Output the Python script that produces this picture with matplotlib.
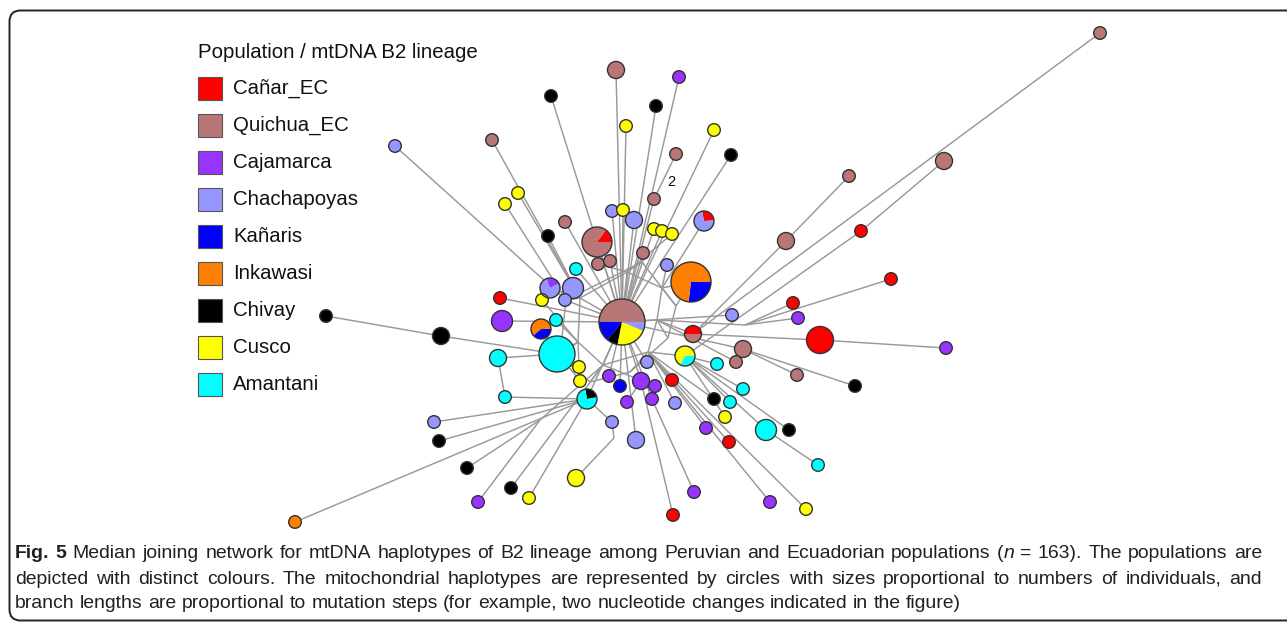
import matplotlib
matplotlib.use("Agg")
import matplotlib.pyplot as plt
from matplotlib.patches import Circle, Wedge, Rectangle, FancyBboxPatch
from matplotlib import font_manager as fm

# ---------------- data ----------------
populations = ["Cañar_EC", "Quichua_EC", "Cajamarca", "Chachapoyas", "Kañaris",
               "Inkawasi", "Chivay", "Cusco", "Amantani"]
pop_codes = ["CA", "QU", "CJ", "CH", "KA", "IN", "CV", "CU", "AM"]
pop_colors = ["#FF0000", "#B97676", "#9933FF", "#9696FF", "#0000FF",
              "#FF8000", "#000000", "#FFFF00", "#00FFFF"]

# haplotype nodes (n01 .. n96), layout positions of the network in pixels
node_x = [616, 679, 551, 656, 626, 714, 492, 395, 676, 731,
          518, 505, 654, 612, 623, 634, 565, 704, 548, 654,
          662, 672, 597, 643, 598, 610, 576, 667, 691, 550,
          573, 565, 542, 500, 622, 556, 502, 541, 441, 326,
          693, 732, 557, 498, 685, 743, 736, 717, 647, 579,
          580, 609, 620, 641, 655, 672, 627, 652, 675, 587,
          505, 612, 636, 434, 439, 467, 511, 478, 529, 576,
          295, 694, 673, 714, 730, 725, 706, 729, 743, 766,
          789, 818, 770, 806, 797, 855, 820, 946, 793, 798,
          891, 861, 786, 849, 944, 1100]
node_y = [70, 77, 96, 106, 126, 130, 140, 146, 154, 155,
          193, 204, 199, 211, 210, 220, 222, 221, 236, 229,
          231, 234, 242, 253, 264, 261, 269, 265, 282, 288,
          288, 300, 300, 298, 322, 320, 321, 329, 336, 316,
          334, 315, 354, 358, 356, 349, 362, 364, 362, 367,
          381, 376, 386, 381, 386, 380, 402, 399, 403, 399,
          397, 422, 440, 422, 441, 468, 488, 502, 498, 478,
          522, 492, 515, 399, 402, 417, 428, 442, 389, 430,
          430, 465, 502, 509, 375, 386, 340, 348, 303, 318,
          279, 231, 241, 176, 161, 33]
# node radius (pixels), proportional to number of individuals
node_r = [8.5, 6.3, 6.3, 6.3, 6.3, 6.3, 6.3, 6.3, 6.3, 6.3,
          6.3, 6.3, 6.3, 6.3, 6.3, 8.5, 6.3, 10, 6.3, 6.3,
          6.3, 6.3, 15, 6.3, 6.3, 6.3, 6.3, 6.3, 20, 10,
          10.5, 6.3, 6.3, 6.3, 23, 6.3, 10.5, 10, 8.5, 6.3,
          8.5, 6.3, 18, 8.5, 10, 8.5, 6.3, 6.3, 6.3, 6.3,
          6.3, 6.3, 6.3, 8.5, 6.3, 6.3, 6.3, 6.3, 6.3, 10,
          6.3, 6.3, 8.5, 6.3, 6.3, 6.3, 6.3, 6.3, 6.3, 8.5,
          6.3, 6.3, 6.3, 6.3, 6.3, 6.3, 6.3, 6.3, 6.3, 10.5,
          6.3, 6.3, 6.3, 6.3, 6.3, 6.3, 13.5, 6.3, 6.3, 6.3,
          6.3, 6.3, 8.5, 6.3, 8.5, 6.3]
# population composition (share in %), slices listed counter-clockwise
node_mix = ["QU", "CJ", "CV", "CV", "CU", "CU", "QU", "CH", "QU", "CV",
            "CU", "CU", "QU", "CH", "CU", "CH", "QU", "CA:27 CH:73", "CV", "CU",
            "CU", "CU", "CA:15 QU:85", "QU", "QU", "QU", "AM", "CH", "KA:27 IN:73", "CJ:23 CH:77",
            "CH", "CH", "CU", "CA", "QU:50 KA:14.2 CV:7.8 CU:21.7 CH:6.4", "AM", "CJ", "KA:39 IN:61", "CV", "CV",
            "CA:50 QU:50", "CH", "AM", "AM", "AM:34 CU:66", "QU", "QU", "AM", "CH", "CU",
            "CU", "CJ", "KA", "CJ", "CJ", "CA", "CJ", "CJ", "CH", "CV:25 AM:75",
            "AM", "CH", "CH", "CH", "CV", "CV", "CV", "CJ", "CU", "CU",
            "IN", "CJ", "CA", "CV", "AM", "CU", "CJ", "CA", "AM", "AM",
            "CV", "AM", "CJ", "CU", "QU", "CV", "CA", "CJ", "CA", "CJ",
            "CA", "CA", "QU", "QU", "QU", "QU"]
# start angle (degrees, counter-clockwise from east) of the first slice of each pie
node_start = {18: 4, 23: 0, 29: -97, 30: 27, 35: 0, 38: -140, 41: 0, 45: -119, 60: 10}

# median vectors (unsampled intermediate haplotypes)
med_names = ["m1", "m2", "m3", "m4", "m5", "m6", "m7",
             "k1", "k2", "k3", "k4", "k5", "k6", "k7", "r1", "m8", "m9"]
med_x = [627, 662, 657, 648, 603, 578, 580,
         642, 676, 668, 630, 590, 560, 566, 745, 540, 614]
med_y = [272, 288, 320, 352, 365, 342, 298,
         262, 306, 338, 372, 382, 356, 300, 325, 420, 438]

edges = [
    "m1-m2", "m2-m3", "m3-m4", "m4-m5", "m5-m6", "m6-m7", "m7-m1",
    "k1-k2", "k2-k3", "k3-k4", "k4-k5", "k5-k6", "k6-k7", "k7-k1",
    "m1-k1", "m2-k2", "m3-k3", "m4-k4", "m5-k5", "m6-k6", "m7-k7",
    "35-m1", "35-m3", "35-m5", "35-m7",
    "1-35", "2-35", "3-35", "4-35", "5-35", "6-35", "7-m7", "8-k7", "9-13", "10-35",
    "11-m7", "12-k7", "13-35", "14-35", "15-35", "16-35", "17-35", "18-m2", "19-m7", "20-35",
    "21-35", "22-m1", "23-35", "24-35", "25-m1", "26-35", "27-35", "28-m2", "29-k2", "29-m2",
    "30-m7", "31-k7", "32-35", "33-m6", "34-35", "36-m6", "37-35", "38-k6", "40-39", "39-43",
    "43-m6", "44-43", "61-44", "61-60", "41-m3", "87-41", "88-87", "42-35", "89-r1", "90-r1",
    "91-r1", "r1-m3", "45-m4", "46-35", "85-46", "86-46", "47-m3", "48-45", "92-45", "95-92",
    "96-41", "94-93", "93-41", "79-45", "81-45", "80-45", "82-80", "84-m4", "83-m4", "74-m4",
    "75-45", "76-45", "77-m4", "78-m4", "72-58", "73-54", "59-m4", "56-m4", "55-m5", "58-35",
    "54-35", "57-54", "53-35", "52-35", "49-35", "50-m6", "51-k6", "60-35", "62-60", "63-35",
    "70-m9", "m9-62", "69-60", "64-60", "65-60", "71-60", "66-m8", "68-m8", "m8-m5", "67-m5",
]

step_label = "2"
legend_title = "Population / mtDNA B2 lineage"
caption_pieces = [
    [("Fig. 5", "bold"),
     (" Median joining network for mtDNA haplotypes of B2 lineage among Peruvian and Ecuadorian populations (", "normal"),
     ("n", "italic"), (" = 163). The populations are", "normal")],
    [("depicted with distinct colours. The mitochondrial haplotypes are represented by circles with sizes proportional to numbers of individuals, and", "normal")],
    [("branch lengths are proportional to mutation steps (for example, two nucleotide changes indicated in the figure)", "normal")],
]

# ---------------- drawing ----------------
W, H = 1287, 628
fig = plt.figure(figsize=(W / 100, H / 100), dpi=100)
ax = fig.add_axes([0, 0, 1, 1])
ax.set_xlim(0, W)
ax.set_ylim(H, 0)
ax.axis("off")

pos = {}
for i, (x, y) in enumerate(zip(node_x, node_y), start=1):
    pos[str(i)] = (x, y)
for n, x, y in zip(med_names, med_x, med_y):
    pos[n] = (x, y)

for e in edges:
    a, b = e.split("-")
    (x1, y1), (x2, y2) = pos[a], pos[b]
    ax.plot([x1, x2], [y1, y2], color="#999999", lw=1.05, zorder=1, solid_capstyle="butt")

col = dict(zip(pop_codes, pop_colors))
edge_col = "#333333"
for i, (x, y, r, mix) in enumerate(zip(node_x, node_y, node_r, node_mix), start=1):
    if ":" not in mix:
        ax.add_patch(Circle((x, y), r, facecolor=col[mix], edgecolor=edge_col, lw=1.0, zorder=3))
        continue
    parts = [(p.split(":")[0], float(p.split(":")[1])) for p in mix.split()]
    total = sum(v for _, v in parts)
    a = node_start.get(i, 0)
    for code, v in parts:
        span = 360.0 * v / total
        # y axis is inverted: visual ccw angle a -> data angle -a
        ax.add_patch(Wedge((x, y), r, -(a + span), -a, facecolor=col[code],
                           edgecolor="none", lw=0, zorder=3))
        a += span
    ax.add_patch(Circle((x, y), r, facecolor="none", edgecolor=edge_col, lw=1.0, zorder=4))

ax.text(671, 182, step_label, fontsize=10.5, family="Liberation Sans",
        ha="center", va="center", color="#111111", zorder=5)

# legend
ax.text(198, 52, legend_title, fontsize=14.7, family="Liberation Sans",
        ha="left", va="center", color="#111111")
for k, (name, c) in enumerate(zip(populations, pop_colors)):
    yc = 88.5 + k * 37.0
    ax.add_patch(Rectangle((198, yc - 11.5), 23.5, 23, facecolor=c,
                           edgecolor="#555555", lw=0.8, zorder=3))
    ax.text(233, yc, name, fontsize=14.7, family="Liberation Sans",
            ha="left", va="center", color="#111111")

# border
ax.add_patch(FancyBboxPatch((9.5, 10.5), 1400, 610, boxstyle="round,pad=0,rounding_size=11",
                            facecolor="none", edgecolor="#222222", lw=1.4, zorder=0, clip_on=True))

# caption (justified like the journal layout)
names = {f.name for f in fm.fontManager.ttflist}
cap_family = "Liberation Sans Narrow" if "Liberation Sans Narrow" in names else "Liberation Sans"
fig.canvas.draw()
renderer = fig.canvas.get_renderer()


def props(style):
    return dict(weight="bold" if style == "bold" else "normal",
                style="italic" if style == "italic" else "normal")


def text_width(s, size, style="normal"):
    t1 = fig.text(0, 0, "|" + s + "|", fontsize=size, family=cap_family, **props(style))
    t2 = fig.text(0, 0, "||", fontsize=size, family=cap_family, **props(style))
    w = t1.get_window_extent(renderer).width - t2.get_window_extent(renderer).width
    t1.remove()
    t2.remove()
    return w


def split_words(pieces):
    words = [[]]
    for s, st in pieces:
        parts = s.split(" ")
        for j, p in enumerate(parts):
            if j > 0:
                words.append([])
            if p:
                words[-1].append((p, st))
    return [w for w in words if w]


x0, x1 = 15.0, 1262.0
line_words = [split_words(p) for p in caption_pieces]


def natural_width(words, size):
    return (sum(text_width(s, size, st) for w in words for s, st in w)
            + (len(words) - 1) * text_width(" ", size))


ref = 10.0
cap_size = ref * (x1 - x0) / max(natural_width(line_words[0], ref),
                                 natural_width(line_words[1], ref)) * 0.985
space_w = text_width(" ", cap_size)
cap_y = [553, 579, 604]
for li, words in enumerate(line_words):
    widths = [[text_width(s, cap_size, st) for s, st in w] for w in words]
    total = sum(sum(ws) for ws in widths)
    gap = space_w
    if li < 2:
        gap = (x1 - x0 - total) / (len(words) - 1)
    x = x0
    for w, ws in zip(words, widths):
        for (s, st), sw in zip(w, ws):
            ax.text(x, cap_y[li], s, fontsize=cap_size, family=cap_family,
                    ha="left", va="center", color="#231F20", **props(st))
            x += sw
        x += gap

fig.savefig("out.png", dpi=100)
